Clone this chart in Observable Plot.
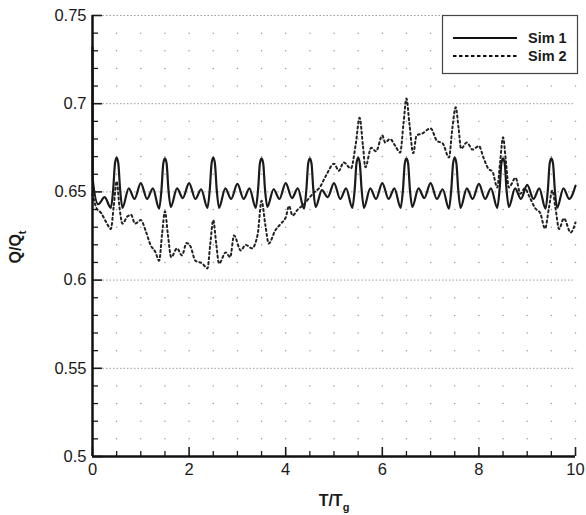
<!DOCTYPE html>
<html><head><meta charset="utf-8">
<script src="https://cdn.jsdelivr.net/npm/d3@7"></script>
<script src="https://cdn.jsdelivr.net/npm/@observablehq/plot@0.6"></script>
<style>
body{margin:0;background:#fff;}
#wrap{position:relative;width:586px;height:515px;}
</style>
</head><body><div id="wrap"></div>
<script>
// ---- data ----
const seriesNames = ["Sim 1", "Sim 2"];
const sim1X = [0, 0.005, 0.12, 0.25, 0.38,
  0.43,0.465,0.5,0.535,0.57,0.62,0.75,0.87,1.0,1.13,1.25,1.38,
  1.43,1.465,1.5,1.535,1.57,1.62,1.75,1.87,2.0,2.13,2.25,2.38,
  2.43,2.465,2.5,2.535,2.57,2.62,2.75,2.87,3.0,3.13,3.25,3.38,
  3.43,3.465,3.5,3.535,3.57,3.62,3.75,3.87,4.0,4.13,4.25,4.38,
  4.43,4.465,4.5,4.535,4.57,4.62,4.75,4.87,5.0,5.13,5.25,5.38,
  5.43,5.465,5.5,5.535,5.57,5.62,5.75,5.87,6.0,6.13,6.25,6.38,
  6.43,6.465,6.5,6.535,6.57,6.62,6.75,6.87,7.0,7.13,7.25,7.38,
  7.43,7.465,7.5,7.535,7.57,7.62,7.75,7.87,8.0,8.13,8.25,8.38,
  8.43,8.465,8.5,8.535,8.57,8.62,8.75,8.87,9.0,9.13,9.25,9.38,
  9.43,9.465,9.5,9.535,9.57,9.62,9.75,9.87,10.0];
const sim1Y = [0.732, 0.657, 0.643, 0.647, 0.641,
  0.652,0.666,0.6695,0.666,0.652,0.641,0.652,0.646,0.655,0.646,0.652,0.6405,
  0.652,0.666,0.669,0.666,0.652,0.6415,0.652,0.6465,0.655,0.646,0.6515,0.641,
  0.652,0.666,0.6695,0.666,0.652,0.641,0.652,0.646,0.6545,0.646,0.652,0.641,
  0.652,0.666,0.669,0.666,0.652,0.6415,0.6515,0.646,0.655,0.6465,0.652,0.6405,
  0.652,0.666,0.669,0.666,0.652,0.6415,0.651,0.647,0.655,0.646,0.652,0.641,
  0.652,0.666,0.6695,0.666,0.652,0.641,0.652,0.646,0.655,0.646,0.652,0.641,
  0.652,0.666,0.669,0.666,0.652,0.6415,0.652,0.6465,0.655,0.646,0.6515,0.6405,
  0.652,0.666,0.6695,0.666,0.652,0.641,0.652,0.646,0.6545,0.646,0.652,0.641,
  0.652,0.666,0.669,0.666,0.652,0.6415,0.652,0.646,0.654,0.646,0.652,0.6405,
  0.652,0.666,0.669,0.666,0.652,0.641,0.652,0.646,0.6535];
const sim2X = [0.0,0.08,0.18,0.28,0.38,0.44,0.5,0.56,0.62,0.72,0.8,0.88,1.0,1.1,1.2,1.3,1.38,
  1.44,1.5,1.56,1.63,1.75,1.85,1.95,2.03,2.13,2.27,2.38,2.44,2.5,2.56,2.62,2.76,2.85,2.93,
  3.07,3.17,3.3,3.42,3.5,3.58,3.65,3.78,3.9,4.0,4.07,4.14,4.25,4.38,4.5,4.6,4.69,4.83,5.0,5.1,
  5.2,5.35,5.45,5.53,5.6,5.65,5.77,5.87,6.0,6.06,6.16,6.27,6.37,6.44,6.5,6.56,6.64,6.71,
  6.82,7.0,7.13,7.25,7.38,7.45,7.52,7.58,7.63,7.75,7.87,8.0,8.1,8.2,8.28,8.38,8.44,8.5,8.56,
  8.62,8.76,8.86,8.95,9.05,9.17,9.27,9.37,9.45,9.52,9.59,9.66,9.76,9.9,10.0];
const sim2Y = [0.649,0.641,0.638,0.633,0.629,0.642,0.656,0.641,0.632,0.636,0.637,0.632,0.634,0.628,0.620,0.616,0.611,
  0.626,0.639,0.626,0.613,0.618,0.614,0.621,0.619,0.611,0.6095,0.6066,0.621,0.634,0.621,0.6094,0.6157,0.613,0.6253,
  0.6168,0.620,0.618,0.626,0.645,0.631,0.6207,0.628,0.632,0.6355,0.642,0.6366,0.640,0.643,0.647,0.650,0.652,0.659,0.666,0.662,
  0.6667,0.6633,0.677,0.692,0.676,0.664,0.675,0.673,0.682,0.678,0.680,0.676,0.6723,0.689,0.703,0.689,0.672,0.682,
  0.683,0.686,0.679,0.6775,0.6695,0.686,0.698,0.686,0.6745,0.678,0.674,0.676,0.669,0.663,0.6616,0.6525,0.667,0.681,0.667,
  0.6525,0.658,0.649,0.652,0.647,0.6406,0.638,0.6292,0.641,0.6508,0.640,0.629,0.635,0.627,0.6327];
const xMajor = [0, 2, 4, 6, 8, 10];
const xMinor = [0.5,1,1.5,2.5,3,3.5,4.5,5,5.5,6.5,7,7.5,8.5,9,9.5];
const yMajor = [0.5, 0.55, 0.6, 0.65, 0.7, 0.75];
const yMinor = [0.51,0.52,0.53,0.54,0.56,0.57,0.58,0.59,0.61,0.62,0.63,0.64,0.66,0.67,0.68,0.69,0.71,0.72,0.73,0.74];
const gridX = [0.5,1,1.5,2,2.5,3,3.5,4,4.5,5,5.5,6,6.5,7,7.5,8,8.5,9,9.5,10];

// ---- layout ----
const W = 586, H = 515, mL = 92, mR = 11, mT = 15, mB = 59;
const FONT = "'Liberation Sans', Arial, Helvetica, sans-serif";
const ux = 10 / (W - mL - mR);      // data units per pixel (x)
const uy = 0.25 / (H - mT - mB);    // data units per pixel (y)

const d1 = sim1X.map((x, i) => ({x, y: sim1Y[i]}));
const d2 = sim2X.map((x, i) => ({x, y: sim2Y[i]}));
const dotsGrid = [];
for (const gx of gridX) for (const gy of yMinor) dotsGrid.push({x: gx, y: gy});

const plot = Plot.plot({
  width: W, height: H, marginLeft: mL, marginRight: mR, marginTop: mT, marginBottom: mB,
  style: {fontFamily: FONT, fontSize: "16.5px", color: "#1a1a1a", background: "white", overflow: "visible"},
  x: {domain: [0, 10], ticks: xMajor, tickSize: 0, tickPadding: 7, tickFormat: d => String(d), label: null},
  y: {domain: [0.5, 0.75], ticks: yMajor, tickSize: 0, tickPadding: 6, tickFormat: d => String(d), label: null},
  marks: [
    Plot.dot(dotsGrid, {x: "x", y: "y", r: 0.75, fill: "#9a9a9a", stroke: null}),
    Plot.ruleY(yMajor.filter(v => v > 0.5), {stroke: "#9a9a9a", strokeWidth: 1, strokeDasharray: "1.5,2"}),
    Plot.line(d2, {x: "x", y: "y", curve: "monotone-x", stroke: "#222", strokeWidth: 2, strokeDasharray: "2,3"}),
    Plot.line(d1, {x: "x", y: "y", curve: "monotone-x", stroke: "#1a1a1a", strokeWidth: 2.2}),
    Plot.ruleY(yMinor, {x1: 0, x2: 6 * ux, stroke: "#1a1a1a", strokeWidth: 1.3}),
    Plot.ruleY(yMajor, {x1: 0, x2: 10 * ux, stroke: "#1a1a1a", strokeWidth: 1.6}),
    Plot.ruleX(xMinor, {y1: 0.5, y2: 0.5 + 5 * uy, stroke: "#1a1a1a", strokeWidth: 1.3}),
    Plot.ruleX(xMajor, {y1: 0.5, y2: 0.5 + 9 * uy, stroke: "#1a1a1a", strokeWidth: 1.6}),
    Plot.ruleX([0], {y1: 0.5, y2: 0.75, stroke: "#111", strokeWidth: 2.5}),
    Plot.ruleY([0.5], {x1: 0, x2: 10, stroke: "#111", strokeWidth: 2.5})
  ]
});
document.getElementById("wrap").appendChild(plot);

// ---- titles & legend ----
const svg = d3.select(plot);
const g = svg.append("g").attr("font-family", FONT).attr("fill", "#1a1a1a").attr("text-anchor", "start");
const xt = g.append("text").attr("x", 334).attr("y", 506).attr("text-anchor", "middle")
  .attr("font-weight", "bold").attr("font-size", 16);
xt.append("tspan").text("T/T");
xt.append("tspan").attr("font-size", 11).attr("dy", 5).text("g");

const yt = g.append("text").attr("transform", "translate(21,247) rotate(-90)").attr("text-anchor", "middle")
  .attr("font-weight", "bold").attr("font-size", 16);
yt.append("tspan").text("Q/Q");
yt.append("tspan").attr("font-size", 11).attr("dy", 5).text("t");

const lg = g.append("g");
lg.append("rect").attr("x", 442.5).attr("y", 15.5).attr("width", 135).attr("height", 58)
  .attr("fill", "white").attr("stroke", "#444").attr("stroke-width", 1.2);
const dashes = [null, "3.5,2.5"];
seriesNames.forEach((name, i) => {
  const yy = 38 + i * 18;
  lg.append("line").attr("x1", 453).attr("x2", 517).attr("y1", yy).attr("y2", yy)
    .attr("stroke", "#111").attr("stroke-width", 2).attr("stroke-dasharray", dashes[i]);
  lg.append("text").attr("x", 528).attr("y", yy + 5).attr("text-anchor", "start")
    .attr("font-weight", "bold").attr("font-size", 14.5).text(name);
});
</script>
</body></html>
